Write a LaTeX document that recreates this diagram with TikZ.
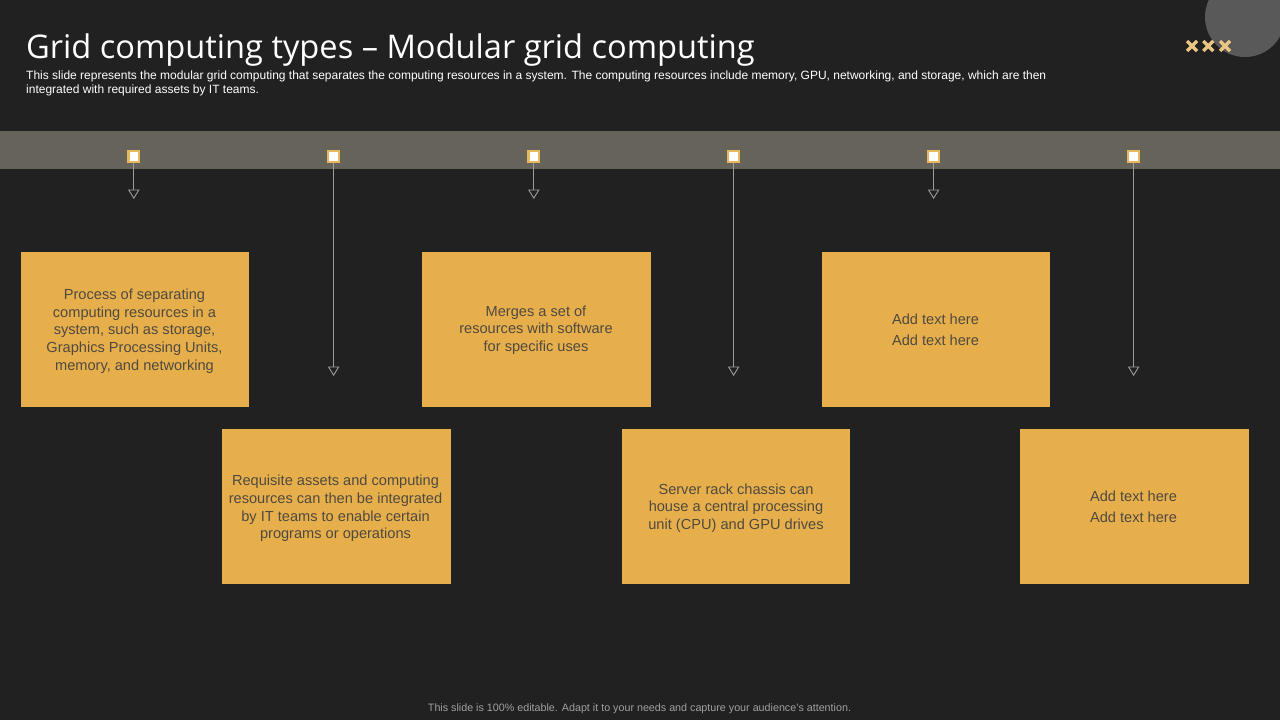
\documentclass[tikz,border=0pt]{standalone}
\usepackage{fontspec}
\setmainfont{Liberation Sans}
\newfontfamily\titlefont{Open Sans}
\usetikzlibrary{arrows.meta}
\definecolor{bg}{HTML}{212121}
\definecolor{band}{HTML}{66635B}
\definecolor{gold}{HTML}{E7AE4C}
\definecolor{pinedge}{HTML}{E7B860}
\definecolor{boxtext}{HTML}{4F4A40}
\definecolor{disc}{HTML}{595959}
\definecolor{wire}{HTML}{9C9C9C}
\definecolor{footc}{HTML}{A0A0A0}
\definecolor{crossc}{HTML}{EBC584}
\tikzset{
 x=1pt,y=-1pt,
 card/.style={fill=gold,draw=none,minimum width=#1,minimum height=155pt,inner sep=0pt,anchor=north west},
 card/.default=228pt,
 cardtext/.style={inner sep=0pt,align=center,text=boxtext,font=\fontsize{14.6}{17.75}\selectfont},
 addtext/.style={inner sep=0pt,align=center,text=boxtext,font=\fontsize{14.6}{21}\selectfont},
 pin/.style={fill=white,draw=pinedge,line width=2.3pt,minimum size=10.6pt,inner sep=0pt},
 drop/.style={draw=wire,line width=0.9pt,-{Triangle[open,length=9.5pt,width=11.5pt,line width=0.9pt]}},
}
\begin{document}
\begin{tikzpicture}
\useasboundingbox (0,0) rectangle (1280,720);
\fill[bg] (0,0) rectangle (1280,720);
\begin{scope}
\clip (0,0) rectangle (1280,720);
\fill[disc] (1245,17) circle (40);
\end{scope}
\fill[band] (0,131) rectangle (1279.5,169);
\foreach \c in {1192,1208.3,1225}{
 \draw[crossc,line width=3.4pt] (\c-5,41) -- (\c+5,51) (\c-5,51) -- (\c+5,41);
}
\node[anchor=west,inner sep=0pt,text=white,font=\titlefont\fontsize{32.6}{38}\selectfont] (title) at (26,50) {Grid computing types – Modular grid computing};
\node[anchor=north west,inner sep=0pt,text=white,align=left,font=\fontsize{12}{14}\selectfont] (sub) at (26,70.5) {This slide represents the modular grid computing that separates the computing resources in a system. The computing resources include memory, GPU, networking, and storage, which are then\\integrated with required assets by IT teams.};
\node[card=228pt] (b1) at (21,252) {};
\node[card=229pt] (b2) at (222,429) {};
\node[card=229pt] (b3) at (422,252) {};
\node[card=228pt] (b4) at (622,429) {};
\node[card=228pt] (b5) at (822,252) {};
\node[card=229pt] (b6) at (1020,429) {};
\node[cardtext] (t1) at (134.5,331) {Process of separating\\computing resources in a\\system, such as storage,\\Graphics Processing Units,\\memory, and networking};
\node[cardtext] (t2) at (335.5,508.5) {Requisite assets and computing\\resources can then be integrated\\by IT teams to enable certain\\programs or operations};
\node[cardtext] (t3) at (536,330) {Merges a set of\\resources with software\\for specific uses};
\node[cardtext] (t4) at (736,508) {Server rack chassis can\\house a central processing\\unit (CPU) and GPU drives};
\node[addtext] (t5) at (935.5,330) {Add text here\\Add text here};
\node[addtext] (t6) at (1133.5,507) {Add text here\\Add text here};
\foreach \n/\x/\e in {1/133.8/199,2/333.6/376,3/533.8/199,4/733.6/376,5/933.6/199,6/1133.6/376}{
 \node[pin] (p\n) at (\x,156.5) {};
 \coordinate (e\n) at (\x,\e);
 \draw[drop] (p\n.south) -- (e\n);
}
\node[text=footc,inner sep=0pt,font=\fontsize{10.73}{12}\selectfont] (foot) at (639.5,709) {This slide is 100\% editable.  Adapt it to your needs and capture your audience's attention.};
\end{tikzpicture}
\end{document}
